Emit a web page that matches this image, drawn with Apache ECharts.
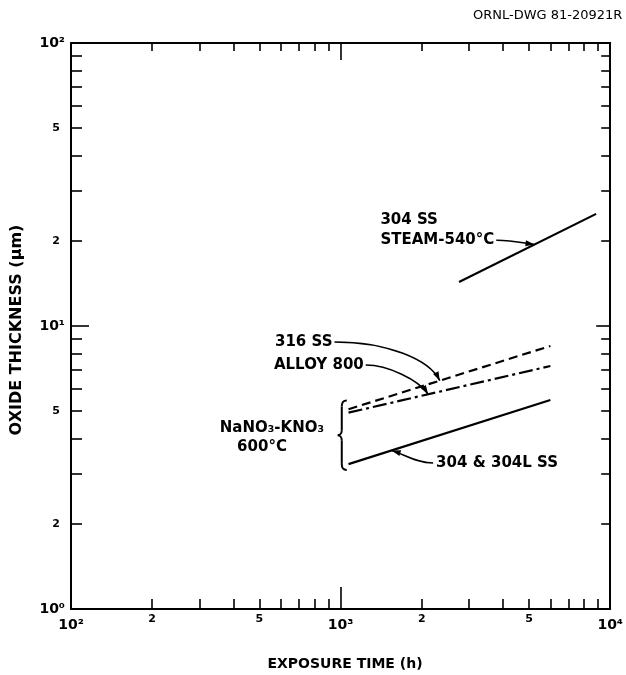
<!DOCTYPE html>
<html>
<head>
<meta charset="utf-8">
<script src="https://cdn.jsdelivr.net/npm/echarts@6/dist/echarts.min.js"></script>
<style>html,body{margin:0;padding:0;background:#fff}#c{width:626px;height:675px}</style>
</head>
<body>
<div id="c"></div>
<script>
// ---------------- data (hours, micrometres) ----------------
const steam304SS = [[2750, 14.3], [8870, 24.9]];
const ss316 = [[1070, 5.08], [6000, 8.50]];
const alloy800 = [[1070, 4.94], [6000, 7.22]];
const ss304and304L = [[1070, 3.25], [6000, 5.48]];

const xRange = [100, 10000];
const yRange = [1, 100];
const xMajorTicks = [100, 1000, 10000];
const xMinorTicks = [200, 300, 400, 500, 600, 700, 800, 900, 2000, 3000, 4000, 5000, 6000, 7000, 8000, 9000];
const xMinorLabels = [200, 500, 2000, 5000];
const yMajorTicks = [1, 10, 100];
const yMinorTicks = [2, 3, 4, 5, 6, 7, 8, 9, 20, 30, 40, 50, 60, 70, 80, 90];
const yMinorLabels = [2, 5, 20, 50];

const titleText = 'ORNL-DWG 81-20921R';
const xName = 'EXPOSURE TIME (h)';
const yName = 'OXIDE THICKNESS (μm)';

// ---------------- presentation ----------------
const FONT = "'DejaVu Sans', 'Liberation Sans', sans-serif";
const lg = Math.log10;
const sup = ['⁰', '¹', '²', '³', '⁴'];
const majorFmt = v => '10' + sup[Math.round(v)];
const minorFmt = v => String(Math.round(Math.pow(10, v - Math.floor(v + 1e-9))));

function frameAxis(pos, range) {
  return {
    type: 'log', logBase: 10, min: range[0], max: range[1], position: pos,
    axisLine: {show: true, onZero: false, lineStyle: {color: '#000', width: 2}},
    axisTick: {show: false}, axisLabel: {show: false}, splitLine: {show: false}
  };
}
function tickAxis(pos, range, ticks, len, labelVals, fmt, lab) {
  return {
    type: 'value', min: lg(range[0]), max: lg(range[1]), position: pos,
    axisLine: {show: false, onZero: false},
    axisTick: {show: true, inside: true, length: len, customValues: ticks.map(lg),
      lineStyle: {color: '#000', width: 1.6}},
    axisLabel: labelVals ? Object.assign({show: true, customValues: labelVals.map(lg),
      formatter: fmt, color: '#000', fontFamily: FONT}, lab) : {show: false},
    splitLine: {show: false}
  };
}
function lineSeries(name, data, type) {
  return {name, type: 'line', data, xAxisIndex: 0, yAxisIndex: 0, symbol: 'none',
    silent: true, animation: false, lineStyle: {color: '#000', width: 2.2, type}};
}

const chart = echarts.init(document.getElementById('c'));
chart.setOption({
  animation: false,
  backgroundColor: '#fff',
  grid: {left: 71, right: 13, top: 43, bottom: 66, containLabel: false},
  xAxis: [
    frameAxis('bottom', xRange),
    frameAxis('top', xRange),
    tickAxis('bottom', xRange, xMajorTicks, 22, xMajorTicks, majorFmt, {fontSize: 14, fontWeight: 'bold', margin: 9}),
    tickAxis('bottom', xRange, xMinorTicks, 10, xMinorLabels, minorFmt, {fontSize: 11, fontWeight: 'bold', margin: 5}),
    tickAxis('top', xRange, [1000], 17, null),
    tickAxis('top', xRange, xMinorTicks, 8, null)
  ],
  yAxis: [
    frameAxis('left', yRange),
    frameAxis('right', yRange),
    tickAxis('left', yRange, yMajorTicks, 18, yMajorTicks, majorFmt, {fontSize: 14, fontWeight: 'bold', margin: 6}),
    tickAxis('left', yRange, yMinorTicks, 11, yMinorLabels, minorFmt, {fontSize: 11, fontWeight: 'bold', margin: 11}),
    tickAxis('right', yRange, [10], 14, null),
    tickAxis('right', yRange, yMinorTicks, 9, null)
  ],
  series: [
    lineSeries('304 SS steam 540°C', steam304SS, 'solid'),
    lineSeries('316 SS', ss316, [9, 5]),
    lineSeries('Alloy 800', alloy800, [14, 4, 3, 4]),
    lineSeries('304 & 304L SS', ss304and304L, 'solid')
  ]
});

// ---------------- annotations (anchored in data space) ----------------
const P = (x, y) => chart.convertToPixel({seriesIndex: 0}, [x, y]);
const ctx = document.createElement('canvas').getContext('2d');
const ANN_SIZE = 15, ANN_WEIGHT = 'bold';
function textW(t) { ctx.font = ANN_WEIGHT + ' ' + ANN_SIZE + 'px DejaVu Sans'; return ctx.measureText(t).width; }
function onLine(seg, x) {
  const [a, b] = seg; const t = (lg(x) - lg(a[0])) / (lg(b[0]) - lg(a[0]));
  return [x, Math.pow(10, lg(a[1]) + t * (lg(b[1]) - lg(a[1])))];
}
const labels = [
  {text: '304 SS', at: [1405, 23.7], align: 'left'},
  {text: 'STEAM-540°C', at: [1405, 20.1], align: 'left', leader: {seg: steam304SS, tipX: 5240, c1: [0.35, -0.05], c2: [0.25, 0.3]}},
  {text: '316 SS', at: [571, 8.78], align: 'left', leader: {seg: ss316, tipX: 2333, c1: [0.5, 0], c2: [0.1, 0.55]}},
  {text: 'ALLOY 800', at: [566, 7.28], align: 'left', leader: {seg: alloy800, tipX: 2112, c1: [0.35, 0], c2: [0.15, 0.5]}},
  {text: 'NaNO₃-KNO₃', at: [556, 4.36], align: 'center'},
  {text: '600°C', at: [511, 3.74], align: 'center'},
  {text: '304 & 304L SS', at: [2261, 3.28], align: 'left', leader: {seg: ss304and304L, tipX: 1547, fromLeft: true, c1: [0.4, 0], c2: [0.3, 0.3]}}
];
const bracket = {x: 1010, top: 5.45, bottom: 3.1};

const g = [];
const stroke = {stroke: '#000', lineWidth: 1.6, fill: 'none'};
labels.forEach(l => {
  const p = P(l.at[0], l.at[1]);
  g.push({type: 'text', x: p[0], y: p[1], silent: true,
    style: {text: l.text, fontSize: ANN_SIZE, fontWeight: ANN_WEIGHT, fontFamily: FONT, fill: '#000', align: l.align, verticalAlign: 'middle'}});
  if (l.leader) {
    const L = l.leader;
    const w = textW(l.text);
    const s = L.fromLeft ? [p[0] - 3, p[1]] : [p[0] + w + 2, p[1]];
    const tip = P.apply(null, onLine(L.seg, L.tipX));
    const dx = tip[0] - s[0], dy = tip[1] - s[1];
    const c1 = [s[0] + L.c1[0] * dx, s[1] + L.c1[1] * dy];
    const c2 = [tip[0] - L.c2[0] * dx, tip[1] - L.c2[1] * dy];
    g.push({type: 'bezierCurve', silent: true, shape: {x1: s[0], y1: s[1], x2: tip[0], y2: tip[1], cpx1: c1[0], cpy1: c1[1], cpx2: c2[0], cpy2: c2[1]}, style: stroke});
    const ang = Math.atan2(tip[1] - c2[1], tip[0] - c2[0]);
    const len = 9, hw = 3;
    const bx = tip[0] - len * Math.cos(ang), by = tip[1] - len * Math.sin(ang);
    g.push({type: 'polygon', silent: true, shape: {points: [tip,
      [bx + hw * Math.sin(ang), by - hw * Math.cos(ang)],
      [bx - hw * Math.sin(ang), by + hw * Math.cos(ang)]]}, style: {fill: '#000'}});
  }
});
// curly bracket
(function () {
  const t = P(bracket.x, bracket.top), b = P(bracket.x, bracket.bottom);
  const x = t[0], top = t[1], bot = b[1], mid = (top + bot) / 2;
  const segs = [
    {x1: x + 5, y1: top, cpx1: x + 1, cpy1: top, cpx2: x, cpy2: top + 2, x2: x, y2: top + 6},
    {x1: x, y1: top + 6, cpx1: x, cpy1: top + 6, cpx2: x, cpy2: mid - 5, x2: x, y2: mid - 5},
    {x1: x, y1: mid - 5, cpx1: x, cpy1: mid - 2, cpx2: x - 2, cpy2: mid, x2: x - 4, y2: mid},
    {x1: x - 4, y1: mid, cpx1: x - 2, cpy1: mid, cpx2: x, cpy2: mid + 2, x2: x, y2: mid + 5},
    {x1: x, y1: mid + 5, cpx1: x, cpy1: mid + 5, cpx2: x, cpy2: bot - 6, x2: x, y2: bot - 6},
    {x1: x, y1: bot - 6, cpx1: x, cpy1: bot - 2, cpx2: x + 1, cpy2: bot, x2: x + 5, y2: bot}
  ];
  segs.forEach(s => g.push({type: 'bezierCurve', silent: true, shape: s, style: {stroke: '#000', lineWidth: 2, fill: 'none'}}));
})();
// titles
g.push({type: 'text', x: 473, y: 16, silent: true, style: {text: titleText, fontSize: 13, fontFamily: FONT, fill: '#000', align: 'left', verticalAlign: 'middle'}});
g.push({type: 'text', x: 345, y: 664, silent: true, style: {text: xName, fontSize: 14, fontWeight: 'bold', fontFamily: FONT, fill: '#000', align: 'center', verticalAlign: 'middle'}});
g.push({type: 'text', x: 17, y: 330, rotation: Math.PI / 2, silent: true, style: {text: yName, fontSize: 16, fontWeight: 'bold', fontFamily: FONT, fill: '#000', align: 'center', verticalAlign: 'middle'}});

chart.setOption({graphic: g});
</script>
</body>
</html>
